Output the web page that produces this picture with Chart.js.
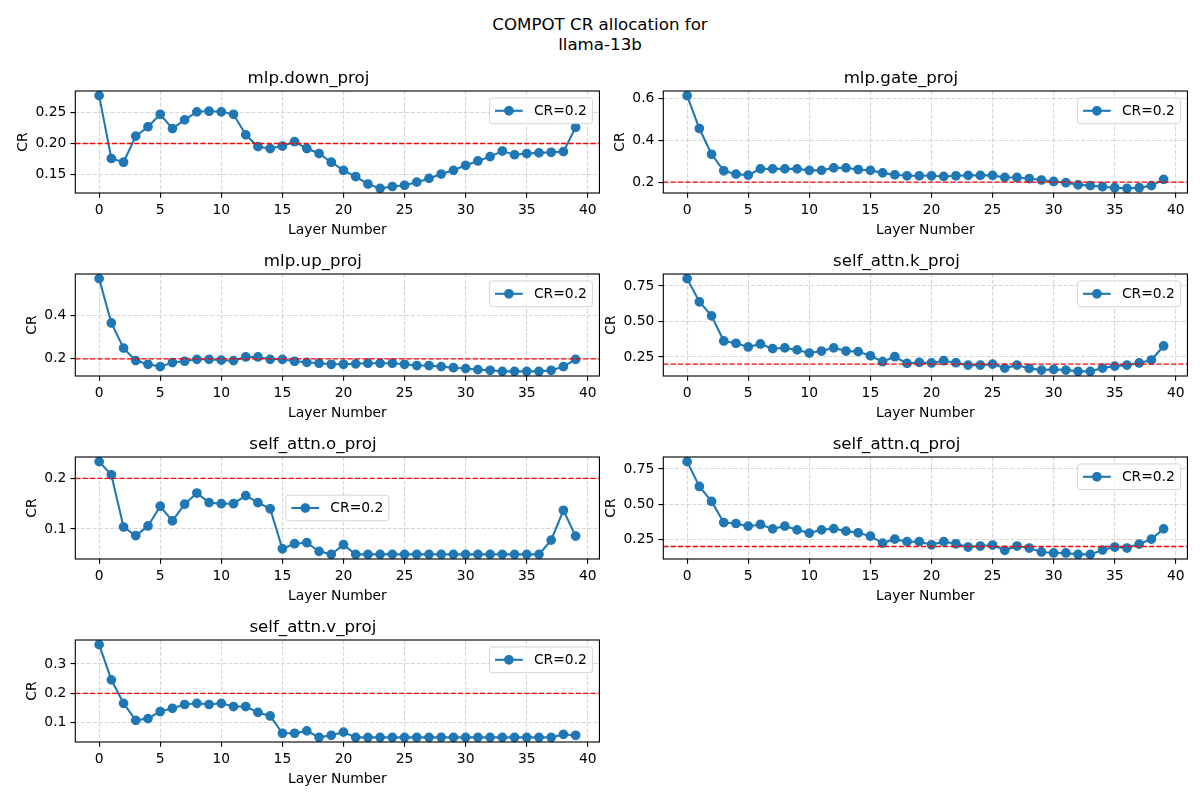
<!DOCTYPE html>
<html>
<head>
<meta charset="utf-8">
<title>COMPOT CR allocation for llama-13b</title>
<script src="https://cdn.jsdelivr.net/npm/chart.js@4.4.0/dist/chart.umd.min.js"></script>
<style>
  html, body { margin: 0; padding: 0; background: #ffffff; }
  #fig { position: relative; width: 1200px; height: 800px; overflow: hidden; background: #ffffff; font-family: "DejaVu Sans", sans-serif; }
  #sup { position: absolute; left: 0; top: 15px; width: 1200px; text-align: center; font-size: 16.67px; line-height: 19.6px; color: #000; }
  canvas { position: absolute; }
</style>
</head>
<body>
<div id="fig">
  <div id="sup">COMPOT CR allocation for<br>llama-13b</div>
</div>
<script>
// ---------------- data ----------------
const layers = [0,1,2,3,4,5,6,7,8,9,10,11,12,13,14,15,16,17,18,19,20,21,22,23,24,25,26,27,28,29,30,31,32,33,34,35,36,37,38,39];
const targetCR = 0.2;
const seriesLabel = 'CR=0.2';

const downProj = [0.277,0.176,0.170,0.212,0.227,0.247,0.224,0.238,0.251,0.252,0.251,0.247,0.214,0.195,0.192,0.196,0.203,0.192,0.184,0.170,0.157,0.147,0.135,0.128,0.131,0.133,0.138,0.144,0.151,0.157,0.165,0.172,0.179,0.188,0.182,0.184,0.185,0.186,0.187,0.226];
const gateProj = [0.613,0.456,0.333,0.254,0.238,0.233,0.263,0.263,0.263,0.263,0.256,0.256,0.268,0.268,0.260,0.256,0.244,0.235,0.230,0.230,0.230,0.227,0.230,0.232,0.232,0.232,0.222,0.222,0.217,0.210,0.203,0.197,0.187,0.183,0.178,0.173,0.170,0.173,0.183,0.213];
const upProj   = [0.573,0.367,0.250,0.192,0.175,0.164,0.183,0.189,0.198,0.198,0.194,0.192,0.209,0.209,0.198,0.198,0.189,0.184,0.180,0.175,0.175,0.177,0.180,0.180,0.180,0.175,0.169,0.169,0.164,0.159,0.155,0.150,0.147,0.142,0.142,0.142,0.142,0.147,0.164,0.198];
const kProj    = [0.802,0.639,0.540,0.363,0.347,0.321,0.342,0.309,0.314,0.300,0.278,0.292,0.314,0.292,0.288,0.259,0.217,0.252,0.205,0.212,0.208,0.224,0.210,0.193,0.193,0.200,0.172,0.193,0.170,0.158,0.163,0.158,0.149,0.149,0.172,0.186,0.193,0.208,0.229,0.328];
const oProj    = [0.233,0.207,0.104,0.087,0.106,0.145,0.116,0.149,0.171,0.152,0.150,0.150,0.166,0.152,0.140,0.061,0.071,0.073,0.056,0.050,0.069,0.050,0.050,0.050,0.050,0.050,0.050,0.050,0.050,0.050,0.050,0.050,0.050,0.050,0.050,0.050,0.050,0.078,0.137,0.086];
const qProj    = [0.802,0.626,0.520,0.370,0.363,0.344,0.356,0.325,0.344,0.318,0.295,0.318,0.327,0.309,0.297,0.273,0.224,0.252,0.234,0.234,0.212,0.234,0.219,0.196,0.203,0.210,0.173,0.203,0.189,0.161,0.154,0.154,0.144,0.144,0.175,0.196,0.189,0.217,0.252,0.325];
const vProj    = [0.366,0.246,0.166,0.108,0.114,0.138,0.149,0.162,0.166,0.162,0.166,0.155,0.155,0.135,0.123,0.064,0.064,0.072,0.050,0.057,0.068,0.050,0.050,0.050,0.050,0.050,0.050,0.050,0.050,0.050,0.050,0.050,0.050,0.050,0.050,0.050,0.050,0.050,0.060,0.057];

const panelTitles = ['mlp.down_proj','mlp.gate_proj','mlp.up_proj','self_attn.k_proj','self_attn.o_proj','self_attn.q_proj','self_attn.v_proj'];
const panelSeries = [downProj, gateProj, upProj, kProj, oProj, qProj, vProj];
const yTickSteps  = [0.05, 0.2, 0.2, 0.25, 0.1, 0.25, 0.1];
const yTickDecimals = [2, 1, 1, 2, 1, 2, 1];

// ---------------- layout / style ----------------
const panelCol = [0, 1, 0, 1, 0, 1, 0];
const panelRow = [0, 0, 1, 1, 2, 2, 3];
const legendLoc = ['ur','ur','ur','ur','center','ur','ur'];

Chart.defaults.font.family = '"DejaVu Sans"';
Chart.defaults.color = '#000';
const FS_TICK = 13.89, FS_TITLE = 16.67;
const BLUE = '#1f77b4';
const GRID = 'rgba(176,176,176,0.5)';
const AX_W = 521.2, AX_H = 102;
const COL_L = [75.3, 663.3];
const ROW_T = [91, 274, 457, 640];
const OFF_L = 75, OFF_T = 40, OFF_R = 8, OFF_B = 60;

const frameAndLegend = {
  id: 'frameAndLegend',
  afterDatasetsDraw(chart, args, opts) {
    const ctx = chart.ctx, ca = chart.chartArea;
    ctx.save();
    ctx.setLineDash([]);
    ctx.strokeStyle = '#000';
    ctx.lineWidth = 1.11;
    ctx.strokeRect(ca.left, ca.top, ca.right - ca.left, ca.bottom - ca.top);

    const ds = chart.data.datasets.find(d => d.showInLegend);
    if (ds) {
      const FS = FS_TICK;
      ctx.font = FS + 'px "DejaVu Sans"';
      const tw = ctx.measureText(ds.label).width;
      const bp = 0.4 * FS, hl = 2.0 * FS, htp = 0.8 * FS, bap = 0.5 * FS;
      const bw = bp * 2 + hl + htp + tw;
      const bh = bp * 2 + FS * 1.05;
      let x, y;
      if (opts.loc === 'center') {
        x = (ca.left + ca.right) / 2 - bw / 2;
        y = (ca.top + ca.bottom) / 2 - bh / 2;
      } else {
        x = ca.right - bap - bw;
        y = ca.top + bap;
      }
      const r = 0.2 * FS;
      ctx.beginPath();
      ctx.moveTo(x + r, y);
      ctx.lineTo(x + bw - r, y);
      ctx.arcTo(x + bw, y, x + bw, y + r, r);
      ctx.lineTo(x + bw, y + bh - r);
      ctx.arcTo(x + bw, y + bh, x + bw - r, y + bh, r);
      ctx.lineTo(x + r, y + bh);
      ctx.arcTo(x, y + bh, x, y + bh - r, r);
      ctx.lineTo(x, y + r);
      ctx.arcTo(x, y, x + r, y, r);
      ctx.closePath();
      ctx.fillStyle = 'rgba(255,255,255,0.8)';
      ctx.fill();
      ctx.strokeStyle = 'rgba(204,204,204,0.8)';
      ctx.lineWidth = 1;
      ctx.stroke();

      const cy = y + bh / 2;
      ctx.strokeStyle = ds.borderColor;
      ctx.lineWidth = ds.borderWidth;
      ctx.beginPath();
      ctx.moveTo(x + bp, cy);
      ctx.lineTo(x + bp + hl, cy);
      ctx.stroke();
      ctx.beginPath();
      ctx.arc(x + bp + hl / 2, cy, ds.pointRadius, 0, Math.PI * 2);
      ctx.fillStyle = ds.pointBackgroundColor;
      ctx.fill();
      ctx.lineWidth = ds.pointBorderWidth;
      ctx.strokeStyle = ds.pointBorderColor;
      ctx.stroke();

      ctx.fillStyle = '#000';
      ctx.textBaseline = 'middle';
      ctx.textAlign = 'left';
      ctx.fillText(ds.label, x + bp + hl + htp, cy + 0.5);
    }
    ctx.restore();
  }
};

const fig = document.getElementById('fig');
const xLo = Math.min(...layers), xHi = Math.max(...layers);
const xMin = xLo - 0.05 * (xHi - xLo), xMax = xHi + 0.05 * (xHi - xLo);

panelTitles.forEach((title, i) => {
  const vals = panelSeries[i];
  const lo = Math.min(targetCR, ...vals), hi = Math.max(targetCR, ...vals);
  const yMin = lo - 0.05 * (hi - lo), yMax = hi + 0.05 * (hi - lo);
  const dec = yTickDecimals[i];

  const L = COL_L[panelCol[i]], T = ROW_T[panelRow[i]];
  const cx = Math.floor(L - OFF_L), cy = Math.floor(T - OFF_T);
  const cw = Math.ceil(L + AX_W + OFF_R) - cx, ch = Math.ceil(T + AX_H + OFF_B) - cy;
  const canvas = document.createElement('canvas');
  canvas.width = cw; canvas.height = ch;
  canvas.style.left = cx + 'px'; canvas.style.top = cy + 'px';
  canvas.style.width = cw + 'px'; canvas.style.height = ch + 'px';
  fig.appendChild(canvas);
  const dl = L - cx, dt = T - cy, dr = dl + AX_W, db = dt + AX_H;

  const tickFont = { family: '"DejaVu Sans"', size: FS_TICK };
  const chart = new Chart(canvas, {
    type: 'line',
    data: {
      datasets: [
        {
          label: seriesLabel,
          showInLegend: true,
          data: layers.map((l, k) => ({ x: l, y: vals[k] })),
          borderColor: BLUE, backgroundColor: BLUE,
          borderWidth: 2.08, tension: 0,
          pointRadius: 4.17, pointHoverRadius: 4.17,
          pointBorderWidth: 1.39,
          pointBackgroundColor: BLUE, pointBorderColor: BLUE,
          order: 1
        },
        {
          label: 'target',
          data: [{ x: xMin, y: targetCR }, { x: xMax, y: targetCR }],
          borderColor: '#ff0000', borderWidth: 1.39,
          borderDash: [5.14, 2.22],
          pointRadius: 0, pointHoverRadius: 0,
          order: 0
        }
      ]
    },
    options: {
      responsive: false,
      animation: false,
      events: [],
      layout: { padding: 0 },
      plugins: {
        legend: { display: false },
        tooltip: { enabled: false },
        title: {
          display: true, text: title, color: '#000',
          font: { family: '"DejaVu Sans"', size: FS_TITLE, weight: 'normal' },
          padding: { top: 0, bottom: 2 }
        },
        frameAndLegend: { loc: legendLoc[i] }
      },
      scales: {
        x: {
          type: 'linear', min: xMin, max: xMax,
          ticks: { stepSize: 5, includeBounds: false, font: tickFont, color: '#000', padding: 4, maxRotation: 0, autoSkip: false },
          grid: { color: GRID, lineWidth: 1.11, tickColor: '#000', tickLength: 4.86, tickWidth: 1.11 },
          border: { display: false, dash: [4.11, 1.78] },
          title: { display: true, text: 'Layer Number', color: '#000', font: tickFont, padding: { top: 0, bottom: 0 } }
        },
        y: {
          type: 'linear', min: yMin, max: yMax,
          ticks: { stepSize: yTickSteps[i], includeBounds: false, font: tickFont, color: '#000', padding: 4,
                   callback: v => Number(v).toFixed(dec) },
          grid: { color: GRID, lineWidth: 1.11, tickColor: '#000', tickLength: 4.86, tickWidth: 1.11 },
          border: { display: false, dash: [4.11, 1.78] },
          title: { display: true, text: 'CR', color: '#000', font: tickFont, padding: { top: 0, bottom: 0 } }
        }
      }
    },
    plugins: [frameAndLegend]
  });

  const ca = chart.chartArea;
  chart.options.layout.padding = {
    left: dl - ca.left,
    top: dt - ca.top,
    right: ca.right - dr,
    bottom: ca.bottom - db
  };
  chart.update('none');
});
</script>
</body>
</html>
